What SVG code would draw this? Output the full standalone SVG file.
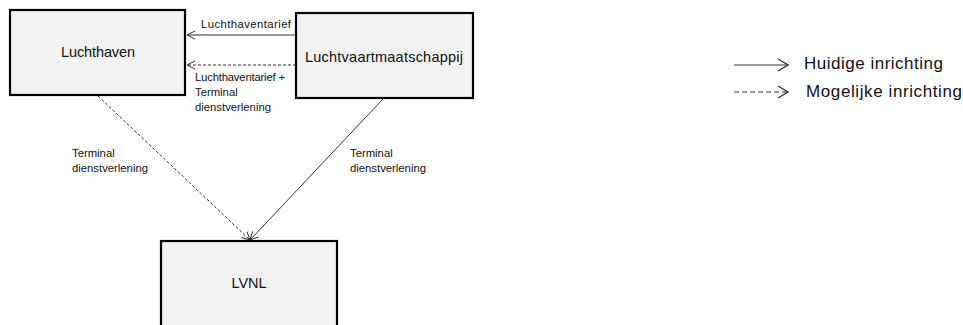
<svg xmlns="http://www.w3.org/2000/svg" width="963" height="325" viewBox="0 0 963 325">
<style>
.box{fill:#f2f2f2;stroke:#000;stroke-width:2.2}
.t{font-family:"Liberation Sans",Arial,sans-serif;fill:#111}
.nl{font-size:14.5px}
.sl{font-size:11.3px}
.lg{font-size:17px}
.c{fill:none;stroke:#333;stroke-width:1}
.d{stroke-dasharray:3,2}
</style>
<defs>
<marker id="ah" markerWidth="10" markerHeight="10" refX="9" refY="5" orient="auto" markerUnits="userSpaceOnUse">
<path d="M1,1 L9,5 L1,9" fill="none" stroke="#333" stroke-width="1"/>
</marker>
<marker id="ahl" markerWidth="12" markerHeight="14" refX="11" refY="7" orient="auto" markerUnits="userSpaceOnUse">
<path d="M1,1 L11,7 L1,13" fill="none" stroke="#333" stroke-width="1.3"/>
</marker>
</defs>
<rect width="963" height="325" fill="#fff"/>
<g id="connectors">
<line class="c" x1="296" y1="35" x2="187" y2="35" marker-end="url(#ah)"/>
<line class="c d" x1="296" y1="65" x2="187" y2="65" marker-end="url(#ah)"/>
<line class="c d" x1="98" y1="96" x2="250" y2="240" marker-end="url(#ah)"/>
<line class="c" x1="383" y1="99" x2="250" y2="240" marker-end="url(#ah)"/>
<text class="t sl" x="201" y="28" textLength="90">Luchthaventarief</text>
<text class="t sl" x="195" y="81" textLength="90">Luchthaventarief +</text>
<text class="t sl" x="195" y="96">Terminal</text>
<text class="t sl" x="195" y="111" textLength="76">dienstverlening</text>
<text class="t sl" x="72" y="157">Terminal</text>
<text class="t sl" x="72" y="172" textLength="76">dienstverlening</text>
<text class="t sl" x="350" y="157">Terminal</text>
<text class="t sl" x="350" y="172" textLength="76">dienstverlening</text>
</g>
<g id="luchthaven">
<rect class="box" x="10" y="10" width="175" height="85"/>
<text class="t nl" x="98" y="57" text-anchor="middle" textLength="74">Luchthaven</text>
</g>
<g id="luchtvaartmaatschappij">
<rect class="box" x="296" y="13" width="177" height="85"/>
<text class="t nl" x="384" y="62" text-anchor="middle" textLength="158">Luchtvaartmaatschappij</text>
</g>
<g id="lvnl">
<rect class="box" x="161" y="241" width="176" height="95"/>
<text class="t nl" x="249" y="288" text-anchor="middle">LVNL</text>
</g>
<g id="legend">
<line class="c" x1="734" y1="65" x2="788" y2="65" stroke-width="1.3" marker-end="url(#ahl)"/>
<line class="c" x1="734" y1="92" x2="788" y2="92" stroke-width="1.3" stroke-dasharray="5,3" marker-end="url(#ahl)"/>
<text class="t lg" x="804" y="69" textLength="139">Huidige inrichting</text>
<text class="t lg" x="806" y="97" textLength="156">Mogelijke inrichting</text>
</g>
</svg>
